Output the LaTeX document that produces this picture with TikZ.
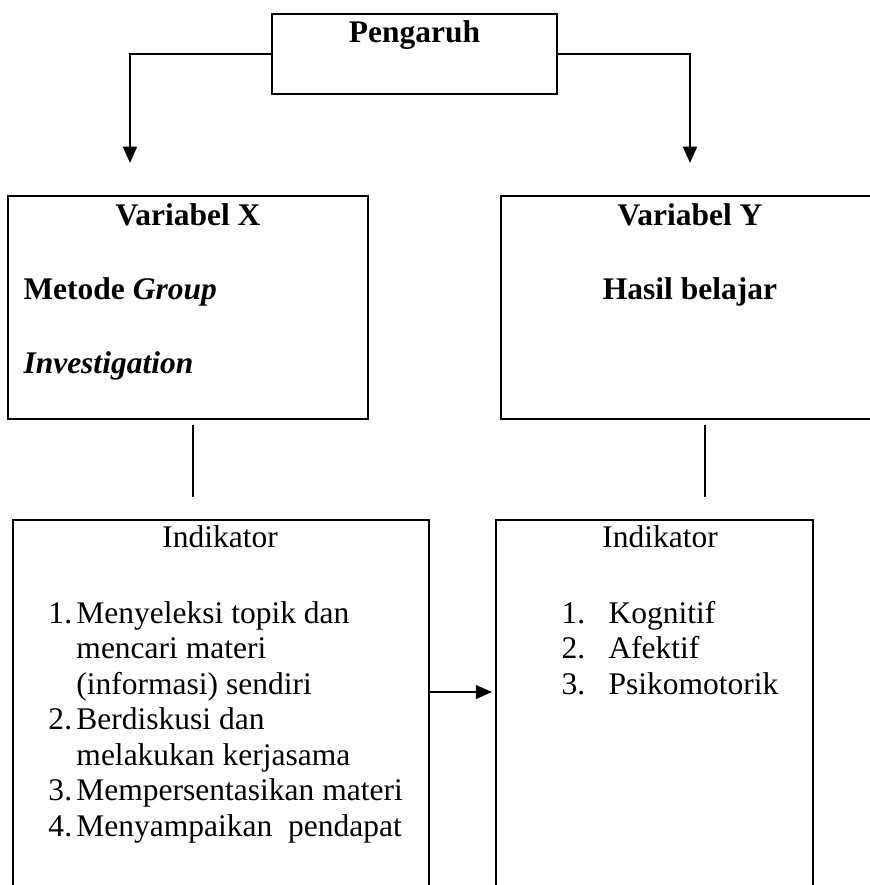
\documentclass[tikz,border=0pt]{standalone}
\usepackage{fontspec}
\setmainfont{Liberation Serif}
\usetikzlibrary{arrows.meta}
\begin{document}
\begin{tikzpicture}[x=0.4pt,y=-0.4pt,
  box/.style={draw,line width=0.9pt,rectangle,inner sep=0pt},
  txt/.style={inner sep=0pt,font=\fontsize{12.6}{14.2}\selectfont},
  conn/.style={line width=0.8pt},
  arr/.style={line width=0.8pt,-{Triangle[length=6.5pt,width=5.5pt]}}]
\useasboundingbox (0,0) rectangle (870,885);
\clip (0,0) rectangle (870,885);
% boxes
\node[box,minimum width=114pt,minimum height=32pt] (peng) at (414.5,54) {};
\node[box,minimum width=144pt,minimum height=89.2pt] (varx) at (188,307.5) {};
\node[box,minimum width=152pt,minimum height=89.2pt] (vary) at (691,307.5) {};
\node[box,minimum width=166.4pt,minimum height=152pt] (indl) at (221,710) {};
\node[box,minimum width=126.8pt,minimum height=152pt] (indr) at (654.5,710) {};
% texts
\node[txt,anchor=base] (tpeng) at (414.5,43) {\bfseries Pengaruh};
\node[txt,anchor=base] (tvx) at (188,225) {\bfseries Variabel X};
\node[txt,anchor=base west] (tmet) at (23,300) {\bfseries Metode \textit{Group}};
\node[txt,anchor=base west] (tinv) at (23,373) {\bfseries\itshape Investigation};
\node[txt,anchor=base] (tvy) at (690,225) {\bfseries Variabel Y};
\node[txt,anchor=base] (thb) at (690,300) {\bfseries Hasil belajar};
\node[txt,anchor=base] (til) at (220,547) {Indikator};
\node[txt,anchor=base] (tir) at (660,547) {Indikator};
\node[txt,anchor=base west] (listl) at (48,623) {\fontsize{12.6}{14.2}\selectfont
  \begin{tabular}[t]{@{}p{11.2pt}@{}l@{}}
  1. & Menyeleksi topik dan\\
     & mencari materi\\
     & (informasi) sendiri\\
  2. & Berdiskusi dan\\
     & melakukan kerjasama\\
  3. & Mempersentasikan materi\\
  4. & Menyampaikan\ \ pendapat
  \end{tabular}};
\node[txt,anchor=base west] (listr) at (561,623) {\fontsize{12.6}{14.2}\selectfont
  \begin{tabular}[t]{@{}p{18.8pt}@{}l@{}}
  1. & Kognitif\\
  2. & Afektif\\
  3. & Psikomotorik
  \end{tabular}};
% connectors
\coordinate (ltip) at (130,163);
\coordinate (rtip) at (690,163);
\draw[arr] (peng.west) -| (ltip);
\draw[arr] (peng.east) -| (rtip);
\coordinate (la) at (193,425);
\coordinate (lb) at (193,497);
\coordinate (ra) at (705,425);
\coordinate (rb) at (705,497);
\draw[conn] (la) -- (lb);
\draw[conn] (ra) -- (rb);
\coordinate (mtip) at (492,692);
\draw[arr] (indl.east |- mtip) -- (mtip);
\end{tikzpicture}
\end{document}
